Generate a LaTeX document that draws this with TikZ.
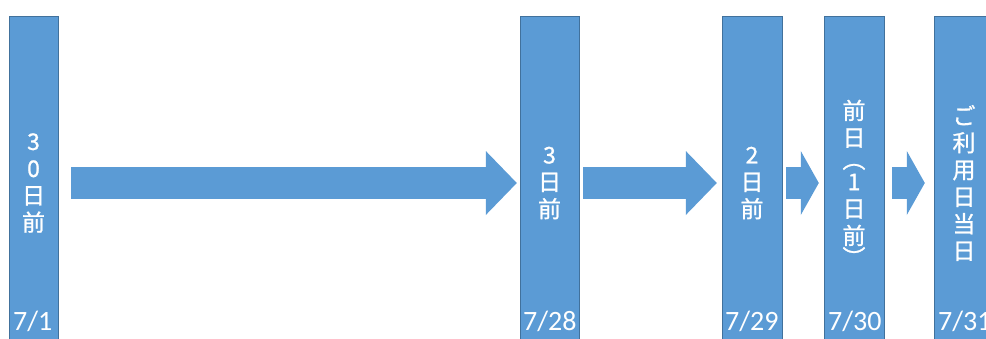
\documentclass[tikz,border=0pt]{standalone}
\usepackage{fontspec}
\usepackage{tikz}
\usetikzlibrary{arrows.meta}
\newfontfamily\jpfont[FakeBold=1.0]{Noto Sans CJK JP}
\newfontfamily\datefont{Carlito}
\definecolor{barblue}{RGB}{91,155,213}
\definecolor{barline}{RGB}{65,113,156}
\tikzstyle{day}=[rectangle, draw=barline, fill=barblue, minimum height=334pt, inner sep=0pt, text=white, align=center, font=\jpfont\fontsize{23}{27}\selectfont]
\tikzstyle{date}=[anchor=base west, inner sep=0pt, text=white, font=\datefont\fontsize{28}{28}\selectfont]
\tikzstyle{flow}=[line width=32pt, draw=barblue]
\tikzstyle{longhead}=[-{Triangle[length=31pt,width=64pt,line width=0pt]}]
\tikzstyle{shorthead}=[-{Triangle[length=18pt,width=64pt,line width=0pt]}]

\begin{document}
\begin{tikzpicture}[x=1pt,y=-1pt]
	\useasboundingbox (0,0) rectangle (986,338);
	\clip (0,0) rectangle (986,338);

	%The day bars
	\draw (33.5,183) node[day, minimum width=49pt] (d30) {3\\0\\日\\前};
	\draw (549.5,183) node[day, minimum width=59pt] (d3) {3\\日\\前};
	\draw (752,183) node[day, minimum width=60pt] (d2) {2\\日\\前};
	\draw (854,183) node[day, minimum width=60pt] (d1) {前\\日\\[-5pt]︵\\[-5pt]1\\日\\前\\[-5pt]︶};
	\draw (964,183) node[day, minimum width=60pt] (d0) {ご\\利\\用\\日\\当\\日};

	%The dates
	\draw (13,330) node[date] (t30) {7/1};
	\draw (523,330) node[date] (t3) {7/28};
	\draw (725,330) node[date] (t2) {7/29};
	\draw (828,330) node[date] (t1) {7/30};
	\draw (938,330) node[date] (t0) {7/31};

	%The arrows
	\draw[flow, longhead, shorten <=13pt, shorten >=3pt] (d30) -- (d3);
	\draw[flow, longhead, shorten <=4pt, shorten >=5pt] (d3) -- (d2);
	\draw[flow, shorthead, shorten <=4pt, shorten >=5pt] (d2) -- (d1);
	\draw[flow, shorthead, shorten <=8pt, shorten >=9pt] (d1) -- (d0);
\end{tikzpicture}
\end{document}
